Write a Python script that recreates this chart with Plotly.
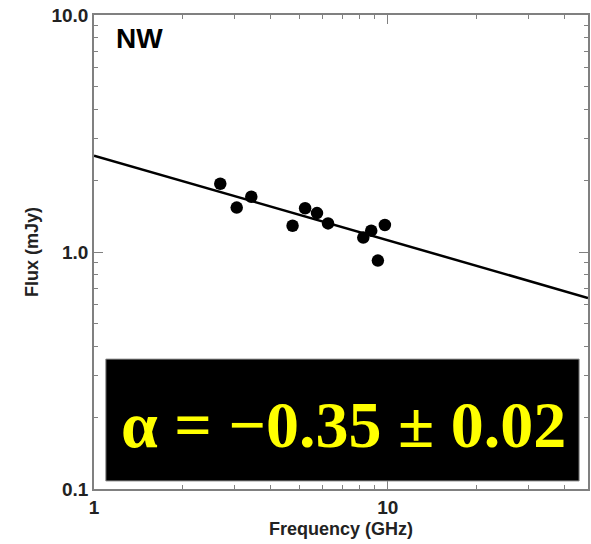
import plotly.graph_objects as go
import numpy as np

# Data
freq_ghz = [2.69, 3.06, 3.43, 4.74, 5.23, 5.74, 6.26, 8.25, 8.78, 9.25, 9.77]
flux_mjy = [1.94, 1.54, 1.71, 1.29, 1.53, 1.46, 1.32, 1.15, 1.23, 0.92, 1.30]

# Fitted power-law line endpoints
fit_freq = [1.0, 48.0]
fit_flux = [2.55, 0.64]

x_tickvals = [1, 10]
x_ticktext = ["1", "10"]
y_tickvals = [0.1, 1.0, 10.0]
y_ticktext = ["0.1", "1.0", "10.0"]
minor_x = [2, 3, 4, 5, 6, 7, 8, 9, 20, 30, 40]
minor_y = [m * d for d in (0.1, 1.0) for m in range(2, 10)]

label_text = "α = −0.35 ± 0.02"
panel_name = "NW"

fig = go.Figure()
fig.add_trace(go.Scatter(x=fit_freq, y=fit_flux, mode="lines",
                         line=dict(color="black", width=2.5), showlegend=False))
fig.add_trace(go.Scatter(x=freq_ghz, y=flux_mjy, mode="markers",
                         marker=dict(color="black", size=12.5), showlegend=False))

axis_common = dict(
    showgrid=False, zeroline=False, showline=True, linecolor="#808080", linewidth=1.5,
    mirror="allticks", ticks="inside", ticklen=9, tickcolor="#808080", tickwidth=1,
    tickfont=dict(family="Liberation Sans", size=19, color="#222222", weight="bold"),
)

fig.update_xaxes(type="log", range=[0, np.log10(48.0)], tickmode="array",
                 tickvals=x_tickvals, ticktext=x_ticktext,
                 minor=dict(tickmode="array", tickvals=minor_x, ticks="inside",
                            ticklen=4, tickcolor="#808080", showgrid=False),
                 title=dict(text="Frequency (GHz)", standoff=6,
                            font=dict(family="Liberation Sans", size=18, color="#222222", weight="bold")),
                 **axis_common)
fig.update_yaxes(type="log", range=[-1, 1], tickmode="array",
                 tickvals=y_tickvals, ticktext=y_ticktext,
                 minor=dict(tickmode="array", tickvals=minor_y, ticks="inside",
                            ticklen=4, tickcolor="#808080", showgrid=False),
                 title=dict(text="Flux (mJy)", standoff=8,
                            font=dict(family="Liberation Sans", size=18, color="#222222", weight="bold")),
                 **axis_common)

# black label box
fig.add_shape(type="rect", xref="paper", yref="paper",
              x0=0.024, x1=0.982, y0=0.017, y1=0.274,
              fillcolor="black", line=dict(color="#888888", width=1))
fig.add_annotation(xref="paper", yref="paper", x=0.506, y=0.137,
                   text=label_text, showarrow=False,
                   font=dict(family="Liberation Serif", size=66, color="#ffff00", weight="bold"),
                   xanchor="center", yanchor="middle")
fig.add_annotation(xref="paper", yref="paper", x=0.040, y=0.988,
                   text=panel_name, showarrow=False, xanchor="left", yanchor="top",
                   font=dict(family="Liberation Sans", size=28, color="black", weight="bold"))

fig.update_layout(width=591, height=544, margin=dict(l=94, r=1, t=15, b=55),
                  paper_bgcolor="white", plot_bgcolor="white")

fig.write_html("out.html")
